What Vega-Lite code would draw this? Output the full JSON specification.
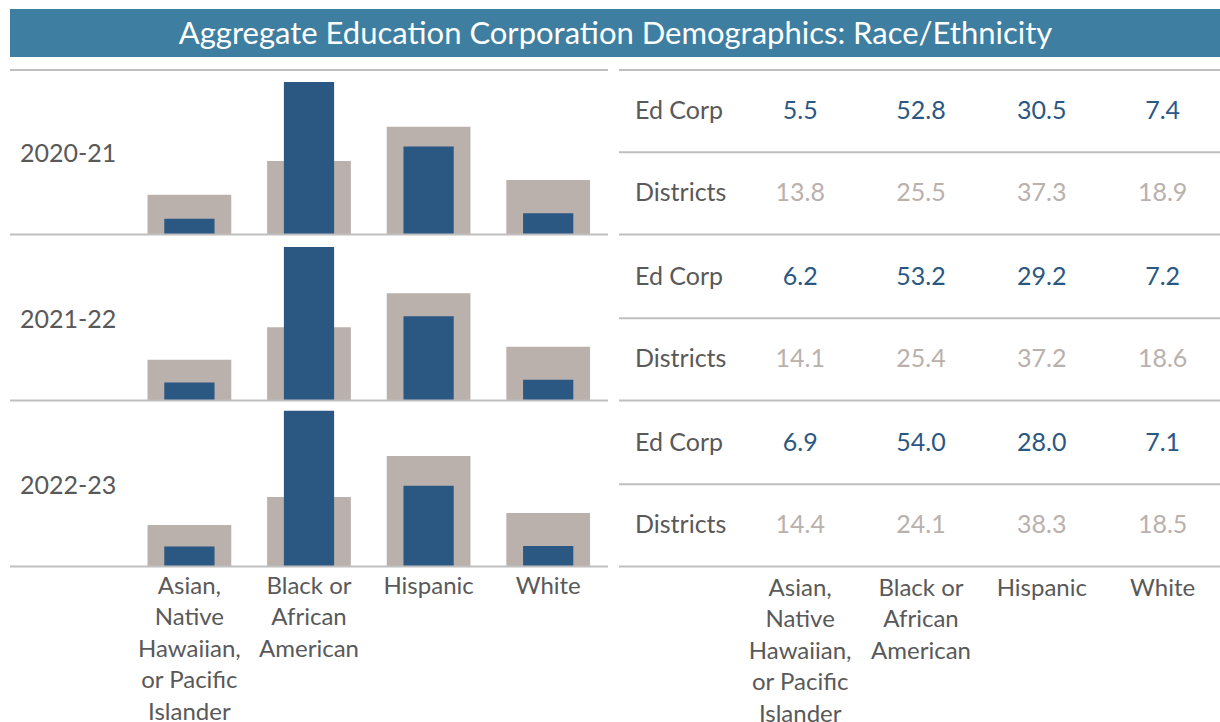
{
  "$schema": "https://vega.github.io/schema/vega-lite/v6.json",
  "padding": {"left": 9, "top": 9, "right": 0, "bottom": 0},
  "background": "white",
  "config": {"font": "Lato", "view": {"stroke": null}},
  "data": {"values": [
    {"year": "2020-21", "cat": "Asian, Native Hawaiian, or Pacific Islander", "group": "Ed Corp", "value": 5.5},
    {"year": "2020-21", "cat": "Black or African American", "group": "Ed Corp", "value": 52.8},
    {"year": "2020-21", "cat": "Hispanic", "group": "Ed Corp", "value": 30.5},
    {"year": "2020-21", "cat": "White", "group": "Ed Corp", "value": 7.4},
    {"year": "2020-21", "cat": "Asian, Native Hawaiian, or Pacific Islander", "group": "Districts", "value": 13.8},
    {"year": "2020-21", "cat": "Black or African American", "group": "Districts", "value": 25.5},
    {"year": "2020-21", "cat": "Hispanic", "group": "Districts", "value": 37.3},
    {"year": "2020-21", "cat": "White", "group": "Districts", "value": 18.9},
    {"year": "2021-22", "cat": "Asian, Native Hawaiian, or Pacific Islander", "group": "Ed Corp", "value": 6.2},
    {"year": "2021-22", "cat": "Black or African American", "group": "Ed Corp", "value": 53.2},
    {"year": "2021-22", "cat": "Hispanic", "group": "Ed Corp", "value": 29.2},
    {"year": "2021-22", "cat": "White", "group": "Ed Corp", "value": 7.2},
    {"year": "2021-22", "cat": "Asian, Native Hawaiian, or Pacific Islander", "group": "Districts", "value": 14.1},
    {"year": "2021-22", "cat": "Black or African American", "group": "Districts", "value": 25.4},
    {"year": "2021-22", "cat": "Hispanic", "group": "Districts", "value": 37.2},
    {"year": "2021-22", "cat": "White", "group": "Districts", "value": 18.6},
    {"year": "2022-23", "cat": "Asian, Native Hawaiian, or Pacific Islander", "group": "Ed Corp", "value": 6.9},
    {"year": "2022-23", "cat": "Black or African American", "group": "Ed Corp", "value": 54.0},
    {"year": "2022-23", "cat": "Hispanic", "group": "Ed Corp", "value": 28.0},
    {"year": "2022-23", "cat": "White", "group": "Ed Corp", "value": 7.1},
    {"year": "2022-23", "cat": "Asian, Native Hawaiian, or Pacific Islander", "group": "Districts", "value": 14.4},
    {"year": "2022-23", "cat": "Black or African American", "group": "Districts", "value": 24.1},
    {"year": "2022-23", "cat": "Hispanic", "group": "Districts", "value": 38.3},
    {"year": "2022-23", "cat": "White", "group": "Districts", "value": 18.5}
  ]},
  "spacing": 12,
  "vconcat": [
    {
      "width": 1211,
      "height": 48,
      "view": {"fill": "#3E7EA0", "stroke": null},
      "transform": [{"filter": "datum.year == '2020-21' && datum.cat == 'White' && datum.group == 'Ed Corp'"}],
      "mark": {"type": "text", "text": "Aggregate Education Corporation Demographics: Race/Ethnicity", "color": "white", "fontSize": 31, "baseline": "middle", "align": "center", "dy": 2},
      "encoding": {}
    },
    {
      "spacing": 9,
      "hconcat": [
        {
          "facet": {"row": {"field": "year", "type": "nominal", "header": {"labels": false, "title": null}}},
          "spacing": {"row": 0},
          "spec": {
            "width": 598,
            "height": 164.5,
            "layer": [
              {
                "transform": [{"filter": "datum.group == 'Districts'"}],
                "mark": {"type": "bar", "color": "#BAB0AC", "width": {"band": 0.7}},
                "encoding": {
                  "x": {"field": "cat", "type": "nominal", "title": null,
                    "scale": {"type": "band", "domain": ["_", "Asian, Native Hawaiian, or Pacific Islander", "Black or African American", "Hispanic", "White"], "paddingInner": 0, "paddingOuter": 0},
                    "axis": {"domain": false, "ticks": false, "grid": false, "labelAngle": 0, "labelFontSize": 24, "labelColor": "#595959", "labelLineHeight": 31.5, "labelBaseline": "top", "labelPadding": 6, "labelLimit": 0,
                      "labelExpr": "datum.value == 'Asian, Native Hawaiian, or Pacific Islander' ? ['Asian,', 'Native', 'Hawaiian,', 'or Pacific', 'Islander'] : datum.value == 'Black or African American' ? ['Black or', 'African', 'American'] : datum.value == '_' ? '' : datum.value"}},
                  "y": {"field": "value", "type": "quantitative", "scale": {"domain": [0, 57], "nice": false, "zero": true}, "axis": null}
                }
              },
              {
                "transform": [{"filter": "datum.group == 'Ed Corp'"}],
                "mark": {"type": "bar", "color": "#2B5783", "width": {"band": 0.42}},
                "encoding": {
                  "x": {"field": "cat", "type": "nominal", "title": null},
                  "y": {"field": "value", "type": "quantitative"}
                }
              },
              {
                "transform": [{"filter": "datum.group == 'Ed Corp' && datum.cat == 'White'"}],
                "mark": {"type": "text", "align": "left", "baseline": "middle", "dx": 10, "dy": 2, "fontSize": 25, "color": "#595959"},
                "encoding": {
                  "x": {"datum": "_", "type": "nominal", "bandPosition": 0, "title": null},
                  "text": {"field": "year"}
                }
              },
              {
                "transform": [{"filter": "datum.group == 'Ed Corp' && datum.cat == 'White'"}],
                "mark": {"type": "rule", "color": "#BFBFBF", "strokeWidth": 2},
                "encoding": {"y": {"datum": 0, "type": "quantitative"}}
              },
              {
                "transform": [{"filter": "datum.group == 'Ed Corp' && datum.cat == 'White' && datum.year == '2020-21'"}],
                "mark": {"type": "rule", "color": "#BFBFBF", "strokeWidth": 2},
                "encoding": {"y": {"datum": 57, "type": "quantitative"}}
              }
            ]
          }
        },
        {
          "facet": {"row": {"field": "year", "type": "nominal", "header": {"labels": false, "title": null}}},
          "spacing": {"row": 0},
          "spec": {
            "width": 604,
            "height": 164.5,
            "layer": [
              {
                "mark": {"type": "text", "align": "center", "baseline": "middle", "fontSize": 25},
                "encoding": {
                  "x": {"field": "cat", "type": "nominal", "title": null,
                    "scale": {"type": "band", "domain": ["_", "Asian, Native Hawaiian, or Pacific Islander", "Black or African American", "Hispanic", "White"], "paddingInner": 0, "paddingOuter": 0},
                    "axis": {"domain": false, "ticks": false, "grid": false, "labelAngle": 0, "labelFontSize": 24, "labelColor": "#595959", "labelLineHeight": 31.5, "labelBaseline": "top", "labelPadding": 8, "labelLimit": 0,
                      "labelExpr": "datum.value == 'Asian, Native Hawaiian, or Pacific Islander' ? ['Asian,', 'Native', 'Hawaiian,', 'or Pacific', 'Islander'] : datum.value == 'Black or African American' ? ['Black or', 'African', 'American'] : datum.value == '_' ? '' : datum.value"}},
                  "y": {"field": "group", "type": "nominal", "scale": {"type": "band", "domain": ["Ed Corp", "Districts"], "paddingInner": 0, "paddingOuter": 0}, "axis": null},
                  "text": {"field": "value", "type": "quantitative", "format": ".1f"},
                  "color": {"field": "group", "type": "nominal", "scale": {"domain": ["Ed Corp", "Districts"], "range": ["#2B5783", "#BAB0AC"]}, "legend": null}
                }
              },
              {
                "transform": [{"filter": "datum.cat == 'White'"}],
                "mark": {"type": "text", "align": "left", "baseline": "middle", "dx": 16, "fontSize": 25, "color": "#595959"},
                "encoding": {
                  "x": {"datum": "_", "type": "nominal", "bandPosition": 0, "title": null},
                  "y": {"field": "group", "type": "nominal"},
                  "text": {"field": "group"}
                }
              },
              {
                "transform": [{"filter": "datum.cat == 'White'"}],
                "mark": {"type": "rule", "color": "#BFBFBF", "strokeWidth": 2},
                "encoding": {"y": {"field": "group", "type": "nominal", "bandPosition": 1}}
              },
              {
                "transform": [{"filter": "datum.cat == 'White' && datum.group == 'Ed Corp' && datum.year == '2020-21'"}],
                "mark": {"type": "rule", "color": "#BFBFBF", "strokeWidth": 2},
                "encoding": {"y": {"field": "group", "type": "nominal", "bandPosition": 0}}
              }
            ]
          }
        }
      ]
    }
  ]
}
